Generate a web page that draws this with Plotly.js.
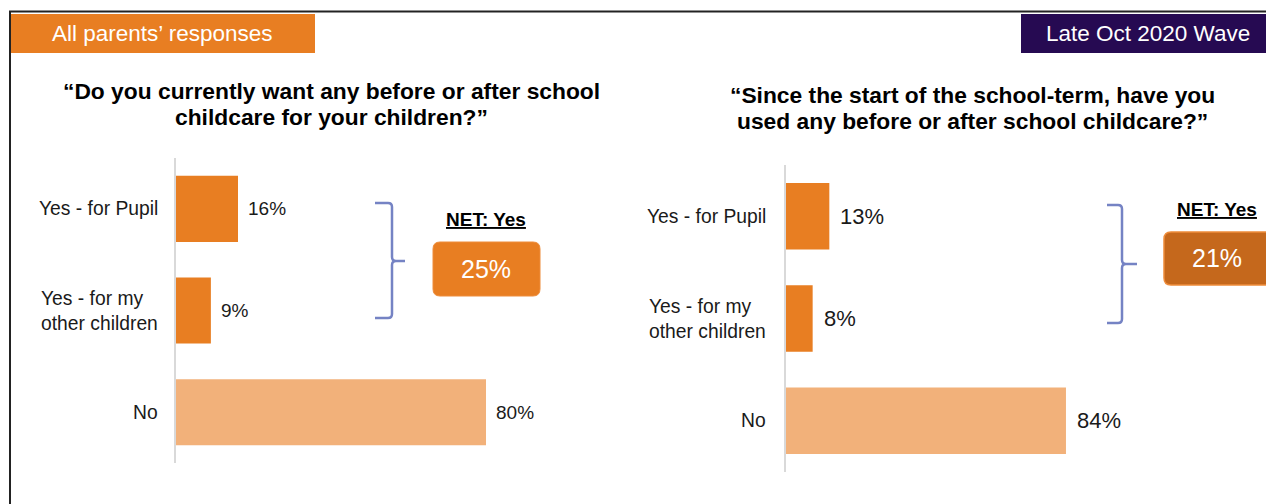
<!DOCTYPE html>
<html>
<head>
<meta charset="utf-8">
<script src="https://cdn.plot.ly/plotly-3.0.1.min.js"></script>
<style>
  html, body { margin: 0; padding: 0; background: #ffffff; }
  #chart { width: 1266px; height: 504px; }
</style>
</head>
<body>
<div id="chart"></div>
<script>
// ---------------- data ----------------
const categories = ['Yes - for Pupil', 'Yes - for my other children', 'No'];
const tickLabels = ['Yes - for Pupil', 'Yes - for my<br>other children', 'No'];
const wantValues = [16, 9, 80];   // "Do you currently want any before or after school childcare..."
const usedValues = [13, 8, 84];   // "Since the start of the school-term, have you used..."
const netWant = 25;
const netUsed = 21;
const headerLeft = 'All parents’ responses';
const headerRight = 'Late Oct 2020 Wave';
const titleLeft = ['“Do you currently want any before or after school', 'childcare for your children?”'];
const titleRight = ['“Since the start of the school-term, have you', 'used any before or after school childcare?”'];
const netLabel = 'NET: Yes';

// ---------------- styling helpers ----------------
const W = 1266, H = 504;
const px = x => x / W;
const py = y => 1 - y / H;
const FONT = 'Liberation Sans, Arial, Helvetica, sans-serif';
const ORANGE = '#E87E22';
const LIGHT = '#F2B17A';
const barColors = [ORANGE, ORANGE, LIGHT];
const BRACE = '#7583C4';

function roundRect(x0, y0, x1, y1, r) {
  return `M${px(x0 + r)},${py(y0)} L${px(x1 - r)},${py(y0)} Q${px(x1)},${py(y0)} ${px(x1)},${py(y0 + r)} ` +
         `L${px(x1)},${py(y1 - r)} Q${px(x1)},${py(y1)} ${px(x1 - r)},${py(y1)} ` +
         `L${px(x0 + r)},${py(y1)} Q${px(x0)},${py(y1)} ${px(x0)},${py(y1 - r)} ` +
         `L${px(x0)},${py(y0 + r)} Q${px(x0)},${py(y0)} ${px(x0 + r)},${py(y0)} Z`;
}
function brace(x0, xv, xt, yTop, yMid, yBot) {
  const r = 4;
  return `M${px(x0)},${py(yTop)} L${px(xv - r)},${py(yTop)} Q${px(xv)},${py(yTop)} ${px(xv)},${py(yTop + r)} ` +
         `L${px(xv)},${py(yMid - r)} Q${px(xv)},${py(yMid)} ${px(xv + r)},${py(yMid)} L${px(xt)},${py(yMid)} ` +
         `M${px(xv + r)},${py(yMid)} Q${px(xv)},${py(yMid)} ${px(xv)},${py(yMid + r)} ` +
         `L${px(xv)},${py(yBot - r)} Q${px(xv)},${py(yBot)} ${px(xv - r)},${py(yBot)} L${px(x0)},${py(yBot)}`;
}

// ---------------- traces ----------------
const traces = [
  {
    type: 'bar', orientation: 'h', x: wantValues, y: categories,
    xaxis: 'x', yaxis: 'y', width: 0.65,
    marker: { color: barColors, line: { width: 0 } },
    hoverinfo: 'skip'
  },
  {
    type: 'bar', orientation: 'h', x: usedValues, y: categories,
    xaxis: 'x2', yaxis: 'y2', width: 0.65,
    marker: { color: barColors, line: { width: 0 } },
    hoverinfo: 'skip'
  }
];

// ---------------- annotations ----------------
const annotations = [];
function addText(text, x, y, size, opts) {
  annotations.push(Object.assign({
    text: text, xref: 'paper', yref: 'paper', x: px(x), y: py(y),
    xanchor: 'center', yanchor: 'middle', showarrow: false,
    font: { family: FONT, size: size, color: '#000000' }
  }, opts || {}));
}

// headers
addText(headerLeft, 162, 34, 22.5, { font: { family: FONT, size: 22.5, color: '#ffffff' } });
addText(headerRight, 1148, 34, 22.5, { font: { family: FONT, size: 22.5, color: '#ffffff' } });

// titles (one annotation per line)
addText('<b>' + titleLeft[0] + '</b>', 331, 91, 22.8);
addText('<b>' + titleLeft[1] + '</b>', 331, 117, 22.8);
addText('<b>' + titleRight[0] + '</b>', 972, 95, 22.8);
addText('<b>' + titleRight[1] + '</b>', 972, 121, 22.8);

// NET labels
addText('<b>' + netLabel + '</b>', 486, 219, 19, { font: { family: FONT, size: 19, color: '#000000', lineposition: 'under' } });
addText('<b>' + netLabel + '</b>', 1217, 209, 19, { font: { family: FONT, size: 19, color: '#000000', lineposition: 'under' } });
addText(netWant + '%', 486, 269, 25, { font: { family: FONT, size: 25, color: '#ffffff' } });
addText(netUsed + '%', 1217, 258, 25, { font: { family: FONT, size: 25, color: '#ffffff' } });

// category labels (left aligned block, right edge near the axis) and value labels
categories.forEach((c, i) => {
  annotations.push({
    text: tickLabels[i], xref: 'paper', yref: 'y', x: px(159.5), y: c,
    xanchor: 'right', yanchor: 'middle', align: 'left', showarrow: false,
    font: { family: FONT, size: 19.3, color: '#1a1a1a' }
  });
  annotations.push({
    text: tickLabels[i], xref: 'paper', yref: 'y2', x: px(768.5), y: c,
    xanchor: 'right', yanchor: 'middle', align: 'left', showarrow: false,
    font: { family: FONT, size: 19.3, color: '#1a1a1a' }
  });
  annotations.push({
    text: wantValues[i] + '%', xref: 'x', yref: 'y', x: wantValues[i], y: c,
    xanchor: 'left', yanchor: 'middle', xshift: 8, showarrow: false,
    font: { family: FONT, size: 19, color: '#1a1a1a' }
  });
  annotations.push({
    text: usedValues[i] + '%', xref: 'x2', yref: 'y2', x: usedValues[i], y: c,
    xanchor: 'left', yanchor: 'middle', xshift: 9, showarrow: false,
    font: { family: FONT, size: 22, color: '#1a1a1a' }
  });
});

// ---------------- shapes ----------------
const shapes = [
  // frame lines
  { type: 'line', xref: 'paper', yref: 'paper', x0: px(9), x1: px(1266), y0: py(11.5), y1: py(11.5), line: { color: '#222222', width: 2 } },
  { type: 'line', xref: 'paper', yref: 'paper', x0: px(10), x1: px(10), y0: py(11), y1: py(504), line: { color: '#222222', width: 2 } },
  // header boxes
  { type: 'rect', xref: 'paper', yref: 'paper', x0: px(10.5), x1: px(315), y0: py(14), y1: py(53), fillcolor: ORANGE, line: { width: 0 }, layer: 'below' },
  { type: 'rect', xref: 'paper', yref: 'paper', x0: px(1021), x1: px(1266), y0: py(14), y1: py(53), fillcolor: '#260A52', line: { width: 0 }, layer: 'below' },
  // braces
  { type: 'path', xref: 'paper', yref: 'paper', path: brace(375, 392, 405, 203, 261, 318), line: { color: BRACE, width: 2.5 } },
  { type: 'path', xref: 'paper', yref: 'paper', path: brace(1107, 1122, 1137, 205, 264, 323), line: { color: BRACE, width: 2.5 } },
  // NET boxes
  { type: 'path', xref: 'paper', yref: 'paper', path: roundRect(433, 242, 540, 296, 7), fillcolor: ORANGE, line: { color: '#EE8C3A', width: 1 }, layer: 'below' },
  { type: 'path', xref: 'paper', yref: 'paper', path: roundRect(1164, 232, 1272, 285, 7), fillcolor: '#C5681C', line: { color: '#EE8C3A', width: 1.5 }, layer: 'below' }
];

// ---------------- layout ----------------
const hiddenX = { range: [0, 100], showgrid: false, zeroline: false, showticklabels: false, showline: false, ticks: '', fixedrange: true };
const catY = {
  type: 'category', categoryorder: 'array', categoryarray: categories,
  range: [2.5, -0.5], showgrid: false, zeroline: false, showticklabels: false,
  showline: true, linecolor: '#d9d9d9', linewidth: 2, ticks: '', fixedrange: true
};

const layout = {
  width: W, height: H,
  margin: { l: 0, r: 0, t: 0, b: 0, pad: 0 },
  paper_bgcolor: '#ffffff', plot_bgcolor: 'rgba(0,0,0,0)',
  showlegend: false, hovermode: false,
  bargap: 0.35,
  xaxis: Object.assign({}, hiddenX, { domain: [px(176), px(176 + 387.5)], anchor: 'y' }),
  yaxis: Object.assign({}, catY, { domain: [py(463), py(158)], anchor: 'x' }),
  xaxis2: Object.assign({}, hiddenX, { domain: [px(786), px(786 + 333.3)], anchor: 'y2' }),
  yaxis2: Object.assign({}, catY, { domain: [py(472), py(165)], anchor: 'x2' }),
  annotations: annotations,
  shapes: shapes
};

Plotly.newPlot('chart', traces, layout, { displayModeBar: false, staticPlot: true });
</script>
</body>
</html>
